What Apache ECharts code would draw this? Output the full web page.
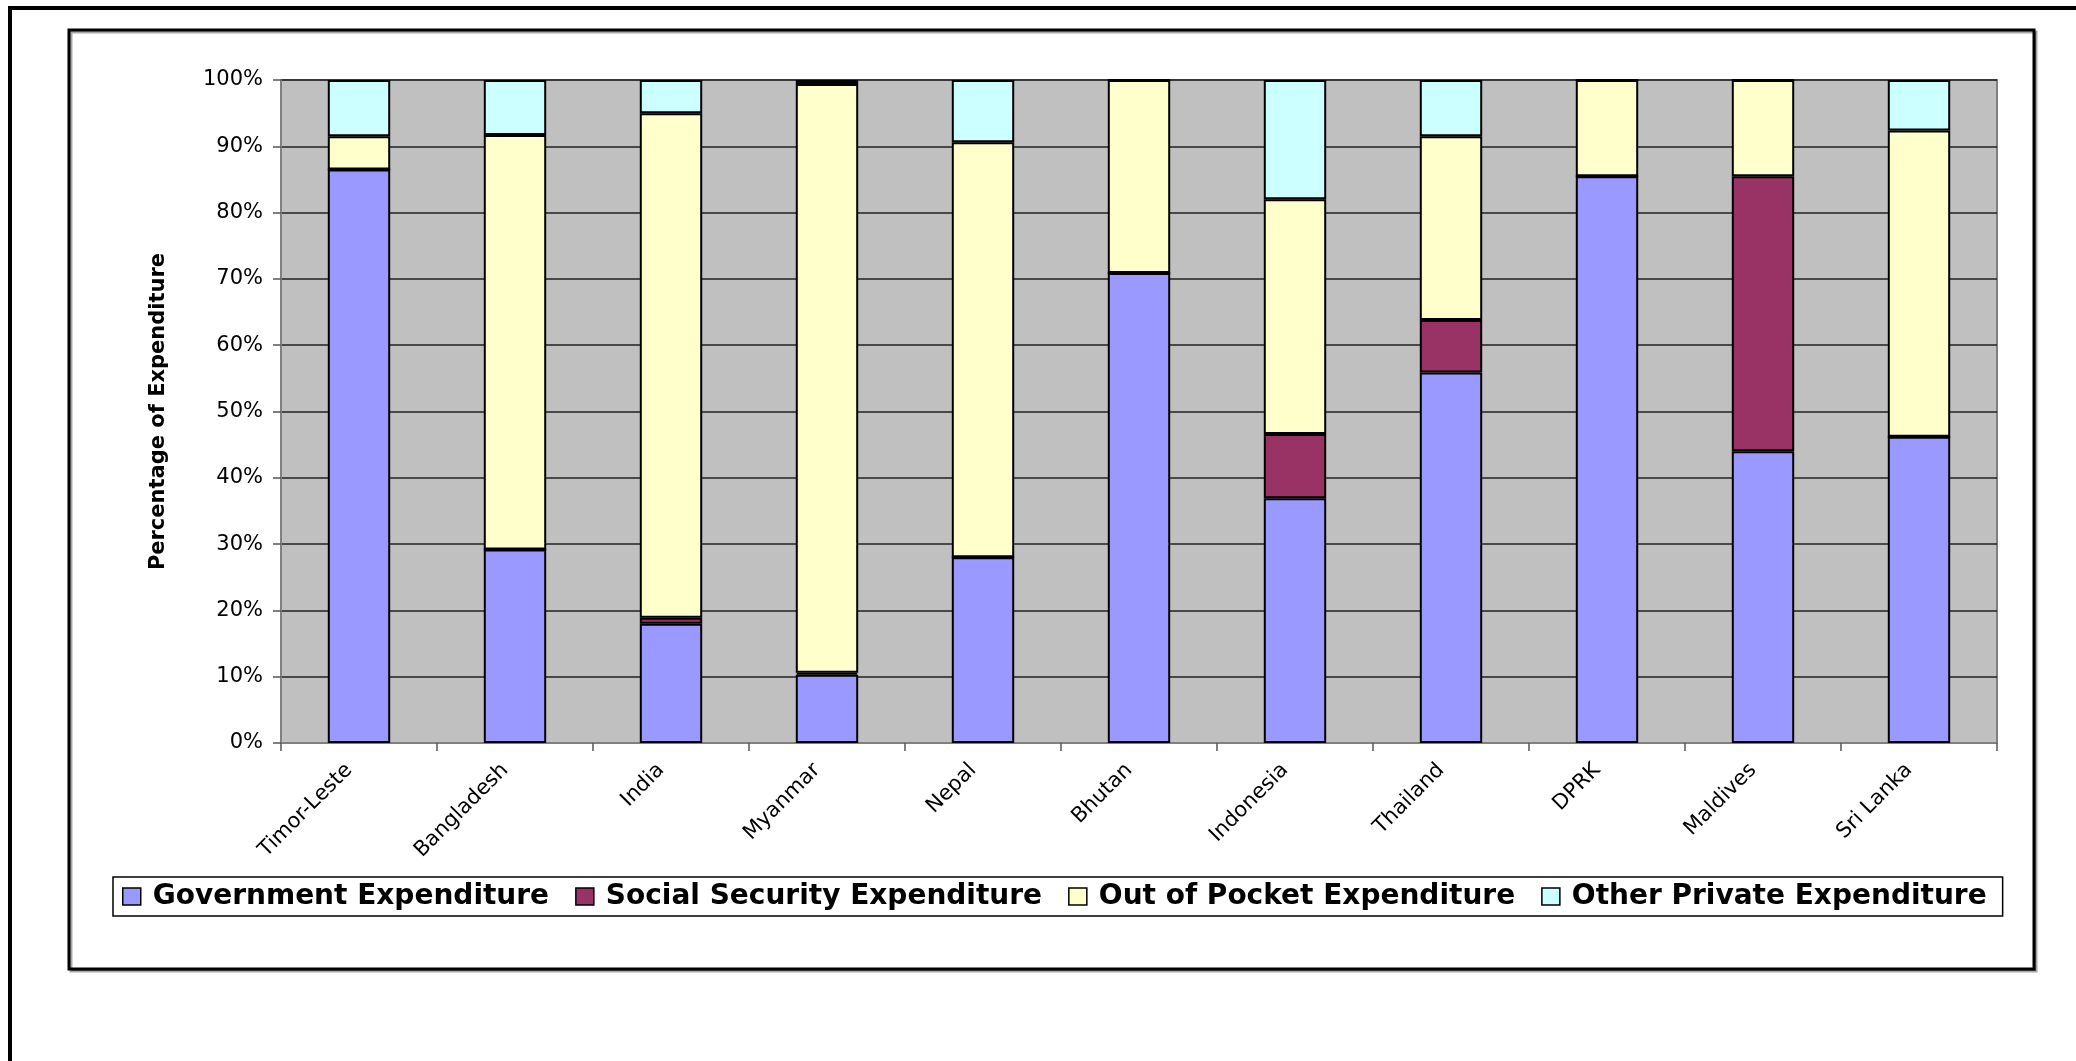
<!DOCTYPE html>
<html>
<head>
<meta charset="utf-8">
<script src="https://cdn.jsdelivr.net/npm/echarts@6/dist/echarts.min.js"></script>
<style>
  html, body { margin: 0; padding: 0; background: #fff; }
  #chart { width: 2076px; height: 1061px; }
</style>
</head>
<body>
<div id="chart"></div>
<script>
// Health expenditure shares by country (percent of total, stacked to 100%)
const countries = ['Timor-Leste', 'Bangladesh', 'India', 'Myanmar', 'Nepal', 'Bhutan',
  'Indonesia', 'Thailand', 'DPRK', 'Maldives', 'Sri Lanka'];
const government   = [86.5, 29.2, 18.0, 10.3, 28.0, 70.9, 36.9, 55.9, 85.5, 44.0, 46.2];
const socialSec    = [0,    0,    0.9,  0.3,  0,    0,    9.7,  7.9,  0,    41.5, 0];
const outOfPocket  = [5.0,  62.5, 76.1, 88.8, 62.6, 29.1, 35.4, 27.7, 14.5, 14.5, 46.2];
const otherPrivate = [8.5,  8.3,  5.0,  0.6,  9.4,  0,    18.0, 8.5,  0,    0,    7.6];
const seriesNames = ['Government Expenditure', 'Social Security Expenditure',
  'Out of Pocket Expenditure', 'Other Private Expenditure'];

const COLORS = ['#9999FF', '#993366', '#FFFFCC', '#CCFFFF'];
const FONT = '"DejaVu Sans", "Liberation Sans", sans-serif';

const chart = echarts.init(document.getElementById('chart'), null, { renderer: 'canvas' });

const seriesData = [government, socialSec, outOfPocket, otherPrivate];

chart.setOption({
  animation: false,
  color: COLORS,
  textStyle: { fontFamily: FONT, color: '#000' },
  // outer frame + chart-area box (chrome only)
  graphic: [
    { type: 'rect', z: -10, silent: true,
      shape: { x: 10, y: 8, width: 2100, height: 1100 },
      style: { fill: null, stroke: '#000', lineWidth: 4 } },
    { type: 'rect', z: -10, silent: true,
      shape: { x: 69, y: 30, width: 1965, height: 939 },
      style: { fill: '#fff', stroke: '#000', lineWidth: 3,
        shadowColor: 'rgba(0,0,0,0.35)', shadowOffsetX: 2, shadowOffsetY: 2, shadowBlur: 0 } },
  ],
  grid: {
    left: 281, right: 79, top: 80, bottom: 318,
    show: true, backgroundColor: '#C0C0C0', borderColor: '#808080', borderWidth: 2,
  },
  legend: {
    data: seriesNames,
    left: 113, top: 877,
    orient: 'horizontal',
    backgroundColor: '#fff',
    borderColor: '#000', borderWidth: 1.5,
    padding: [4, 16, 4, 9],
    itemGap: 26,
    itemWidth: 18, itemHeight: 17,
    icon: 'rect',
    itemStyle: { borderColor: '#000', borderWidth: 1.5 },
    textStyle: { fontFamily: FONT, fontWeight: 'bold', fontSize: 28, color: '#000',
      lineHeight: 31, padding: [0, 0, 0, 7] },
  },
  xAxis: {
    type: 'category',
    data: countries,
    axisLine: { show: true, lineStyle: { color: '#808080', width: 2 } },
    axisTick: { show: true, length: 8, inside: false, lineStyle: { color: '#555', width: 1.5 } },
    axisLabel: { rotate: 45, margin: 14, fontSize: 21, color: '#000', fontFamily: FONT,
      padding: [0, 14, 0, 0] },
    splitLine: { show: false },
  },
  yAxis: {
    type: 'value',
    min: 0, max: 100, interval: 10,
    name: 'Percentage of Expenditure',
    nameLocation: 'middle',
    nameGap: 112,
    nameRotate: 90,
    nameTextStyle: { fontFamily: FONT, fontWeight: 'bold', fontSize: 21, color: '#000' },
    axisLine: { show: true, lineStyle: { color: '#808080', width: 2 } },
    axisTick: { show: true, length: 8, inside: false, lineStyle: { color: '#555', width: 1.5 } },
    axisLabel: { formatter: '{value}%', fontSize: 21, margin: 18, color: '#000', fontFamily: FONT },
    splitLine: { show: true, lineStyle: { color: '#222', width: 1.5 } },
  },
  series: seriesNames.map((name, i) => ({
    name,
    type: 'bar',
    stack: 'total',
    barWidth: '40%',
    data: seriesData[i],
    itemStyle: { color: COLORS[i], borderColor: '#000', borderWidth: 2 },
    emphasis: { disabled: true },
  })),
});
</script>
</body>
</html>
